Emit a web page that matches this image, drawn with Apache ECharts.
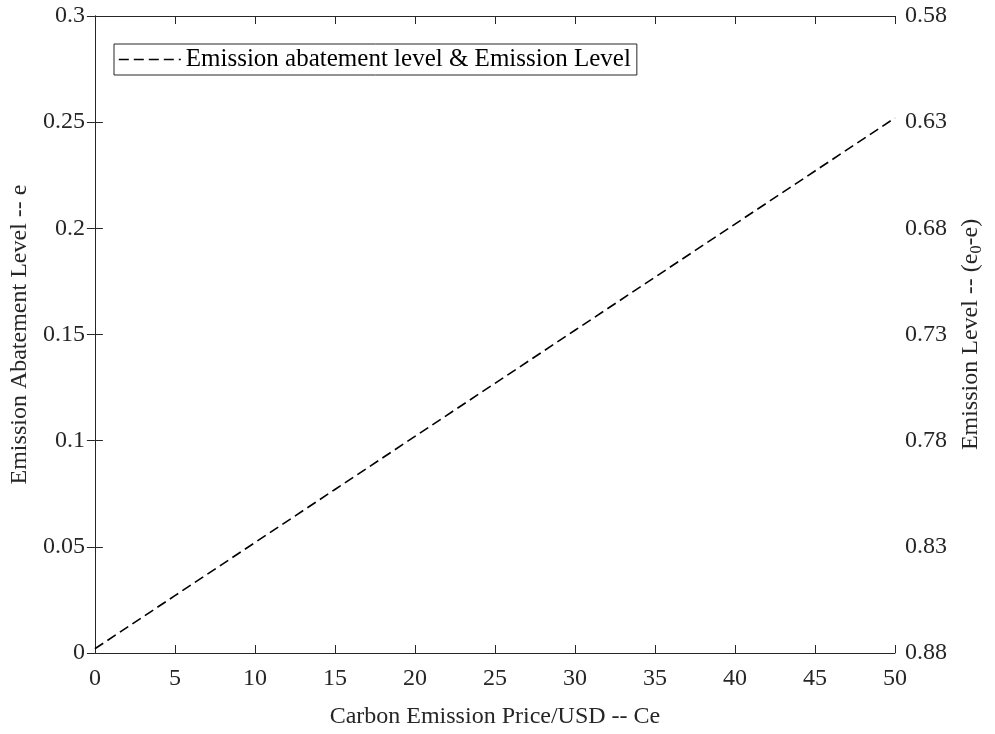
<!DOCTYPE html>
<html>
<head>
<meta charset="utf-8">
<script src="https://cdn.jsdelivr.net/npm/echarts@6/dist/echarts.min.js"></script>
<style>html,body{margin:0;padding:0;background:#fff}#c{width:995px;height:734px}</style>
</head>
<body>
<div id="c"></div>
<script>
const priceCe = [0, 5, 10, 15, 20, 25, 30, 35, 40, 45, 50];
const abatementE = [0.002, 0.027, 0.052, 0.077, 0.102, 0.127, 0.152, 0.177, 0.202, 0.227, 0.252];
const leftTicks = [0, 0.05, 0.1, 0.15, 0.2, 0.25, 0.3];
const rightTicks = [0.58, 0.63, 0.68, 0.73, 0.78, 0.83, 0.88];
const seriesName = 'Emission abatement level & Emission Level';

const font = 'Liberation Serif, Times New Roman, serif';
const axisColor = '#262626';
const chart = echarts.init(document.getElementById('c'));
chart.setOption({
  animation: false,
  backgroundColor: '#fff',
  grid: {left: 92, right: 100, top: 16, bottom: 80},
  legend: {
    left: 114, top: 44, padding: [3, 6, 3, 4],
    borderColor: '#262626', borderWidth: 1,
    itemWidth: 62, itemHeight: 14,
    itemStyle: {opacity: 0},
    lineStyle: {color: '#000', width: 1.6, type: [10, 5]},
    textStyle: {fontFamily: font, fontSize: 25, color: '#000'},
    data: [seriesName]
  },
  xAxis: [{
    type: 'value', min: 0, max: 50, interval: 5,
    name: 'Carbon Emission Price/USD -- Ce', nameLocation: 'middle', nameGap: 52,
    nameTextStyle: {fontFamily: font, fontSize: 24, color: '#262626'},
    axisLine: {show: true, lineStyle: {color: axisColor, width: 1}},
    axisTick: {show: true, inside: true, length: 8, lineStyle: {color: axisColor}},
    axisLabel: {fontFamily: font, fontSize: 24, color: '#262626', margin: 14, formatter: v => String(v)},
    splitLine: {show: false}
  }, {
    type: 'value', min: 0, max: 50, interval: 5, position: 'top',
    axisLine: {show: true, lineStyle: {color: axisColor, width: 1}},
    axisTick: {show: true, inside: true, length: 8, lineStyle: {color: axisColor}},
    axisLabel: {show: false}, splitLine: {show: false}
  }],
  yAxis: [{
    type: 'value', min: 0, max: 0.3, interval: 0.05, position: 'left',
    name: 'Emission Abatement Level -- e', nameLocation: 'middle', nameGap: 51, nameRotate: 90,
    nameTextStyle: {fontFamily: font, fontSize: 24, color: '#262626'},
    axisLine: {show: true, lineStyle: {color: axisColor, width: 1}},
    axisTick: {show: true, inside: true, length: 8, lineStyle: {color: axisColor}},
    axisLabel: {fontFamily: font, fontSize: 24, color: '#262626', margin: 10,
      formatter: v => { const i = leftTicks.findIndex(t => Math.abs(t - v) < 1e-9); return i >= 0 ? String(leftTicks[i]) : ''; }},
    splitLine: {show: false}
  }, {
    type: 'value', min: 0.58, max: 0.88, interval: 0.05, position: 'right', inverse: true,
    name: 'Emission Level -- (e{sub|0}-e)', nameLocation: 'middle', nameGap: 62, nameRotate: 90,
    nameTextStyle: {fontFamily: font, fontSize: 24, color: '#262626',
      rich: {sub: {fontFamily: font, fontSize: 16, color: '#262626', verticalAlign: 'bottom', padding: [12, 0, 0, 0]}}},
    axisLine: {show: true, lineStyle: {color: axisColor, width: 1}},
    axisTick: {show: true, inside: true, length: 8, lineStyle: {color: axisColor}},
    axisLabel: {fontFamily: font, fontSize: 24, color: '#262626', margin: 10,
      formatter: v => { const i = rightTicks.findIndex(t => Math.abs(t - v) < 1e-9); return i >= 0 ? rightTicks[i].toFixed(2) : ''; }},
    splitLine: {show: false}
  }],
  series: [{
    name: seriesName, type: 'line', xAxisIndex: 0, yAxisIndex: 0,
    data: priceCe.map((x, i) => [x, abatementE[i]]),
    symbol: 'none', showSymbol: false,
    lineStyle: {color: '#000', width: 1.6, type: [10, 5]},
    itemStyle: {color: '#000'}
  }]
});
</script>
</body>
</html>
